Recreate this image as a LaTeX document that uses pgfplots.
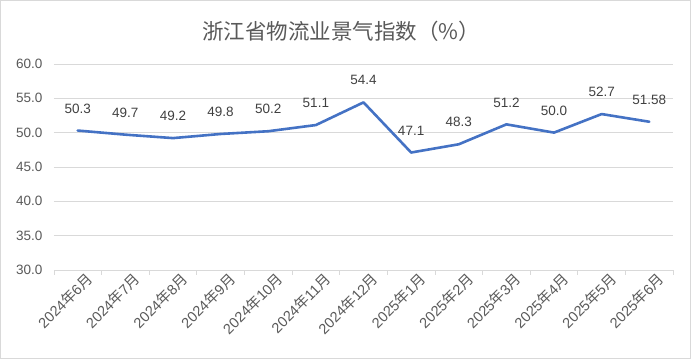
\documentclass[border=0pt]{standalone}
\usepackage{fontspec}
\setmainfont{Liberation Sans}
\newfontfamily\cjk{Noto Sans CJK SC}
\usepackage{pgfplots}
\pgfplotsset{compat=1.18}
\definecolor{lineblue}{HTML}{4472C4}
\definecolor{txtgray}{HTML}{595959}
\definecolor{lbl}{HTML}{404040}
\definecolor{gridgray}{HTML}{D9D9D9}
\begin{document}
\begin{tikzpicture}[x=1pt,y=1pt]
\draw[gridgray, line width=0.8pt] (0.5,0.5) rectangle (690.5,358.5);
\node[txtgray, font=\cjk\fontsize{21.5}{21.5}\selectfont] at (341,328) {浙江省物流业景气指数（\%）};
\begin{axis}[at={(54pt,89pt)}, anchor=south west, scale only axis,
  width=619pt, height=206pt,
  xmin=-0.5, xmax=12.5, ymin=30, ymax=60,
  ytick={30,35,...,60},
  xtick={0,...,12},
  minor xtick={-0.5,0.5,...,12.5},
  xticklabels={2024{\cjk 年}6{\cjk 月},2024{\cjk 年}7{\cjk 月},2024{\cjk 年}8{\cjk 月},2024{\cjk 年}9{\cjk 月},2024{\cjk 年}10{\cjk 月},2024{\cjk 年}11{\cjk 月},2024{\cjk 年}12{\cjk 月},2025{\cjk 年}1{\cjk 月},2025{\cjk 年}2{\cjk 月},2025{\cjk 年}3{\cjk 月},2025{\cjk 年}4{\cjk 月},2025{\cjk 年}5{\cjk 月},2025{\cjk 年}6{\cjk 月}},
  axis line style={draw=none},
  ymajorgrids, major grid style={gridgray, line width=0.8pt},
  major tick length=0pt,
  minor tick length=5pt,
  tick align=outside,
  tick pos=left,
  minor tick style={gridgray, line width=0.8pt},
  tick label style={txtgray, font=\fontsize{13.5}{13.5}\selectfont},
  yticklabel style={xshift=-8pt},
  /pgf/number format/assume math mode=true,
  yticklabel={\pgfmathprintnumber[fixed,fixed zerofill,precision=1]{\tick}},
  xticklabel style={rotate=45, anchor=north east, xshift=4pt, yshift=-6pt, inner sep=0pt, font=\fontsize{14.5}{14.5}\selectfont},
  nodes near coords,
  point meta=explicit symbolic,
  nodes near coords style={lbl, font=\fontsize{13.5}{13.5}\selectfont, anchor=center, yshift=22pt},
  clip=false,
]
\addplot[lineblue, line width=2.6pt, line join=round, line cap=round, mark=none]
  table[x=x, y=y, meta=l] {
x y l
0 50.3 50.3
1 49.7 49.7
2 49.2 49.2
3 49.8 49.8
4 50.2 50.2
5 51.1 51.1
6 54.4 54.4
7 47.1 47.1
8 48.3 48.3
9 51.2 51.2
10 50.0 50.0
11 52.7 52.7
12 51.58 51.58
};
\end{axis}
\end{tikzpicture}
\end{document}
